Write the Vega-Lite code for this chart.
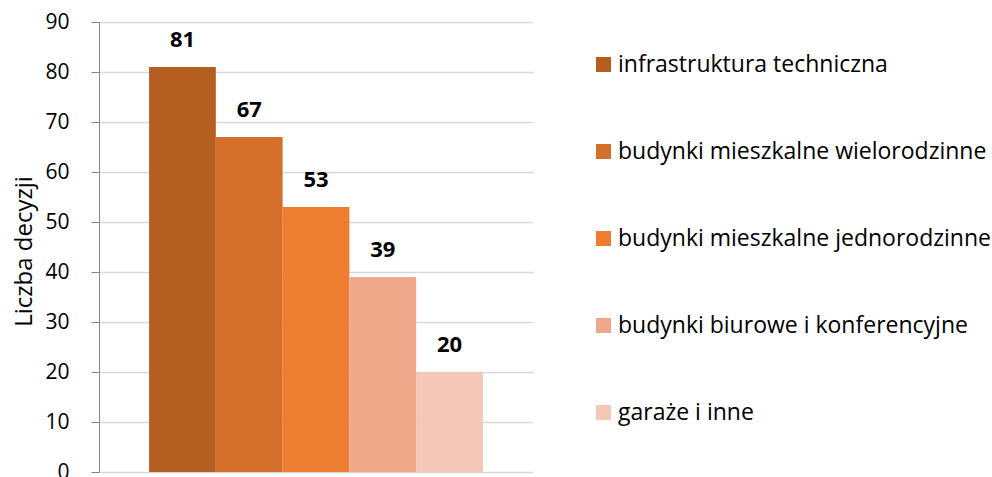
{
  "$schema": "https://vega.github.io/schema/vega-lite/v6.json",
  "width": 434,
  "height": 450,
  "autosize": {"type": "none"},
  "padding": {"left": 99, "top": 22, "right": 459, "bottom": 5},
  "background": "white",
  "config": {
    "view": {"stroke": null},
    "font": "Open Sans"
  },
  "data": {
    "values": [
      {"kategoria": "infrastruktura techniczna", "liczba": 81},
      {"kategoria": "budynki mieszkalne wielorodzinne", "liczba": 67},
      {"kategoria": "budynki mieszkalne jednorodzinne", "liczba": 53},
      {"kategoria": "budynki biurowe i konferencyjne", "liczba": 39},
      {"kategoria": "garaże i inne", "liczba": 20}
    ]
  },
  "encoding": {
    "x": {
      "field": "kategoria",
      "type": "nominal",
      "sort": null,
      "scale": {"paddingInner": 0, "paddingOuter": 0.75},
      "axis": null
    },
    "y": {
      "field": "liczba",
      "type": "quantitative",
      "scale": {"domain": [0, 90]},
      "axis": {
        "title": "Liczba decyzji",
        "values": [0, 10, 20, 30, 40, 50, 60, 70, 80, 90],
        "titleFontSize": 24,
        "titleFontWeight": "normal",
        "titleColor": "#000000",
        "titlePadding": 8,
        "titleY": 229,
        "labelFontSize": 21,
        "labelColor": "#000000",
        "labelPadding": 22,
        "tickSize": 8,
        "tickColor": "#868686",
        "domainColor": "#868686",
        "gridColor": "#D9D9D9",
        "gridWidth": 1.5
      }
    }
  },
  "layer": [
    {
      "mark": {"type": "bar"},
      "encoding": {
        "color": {
          "field": "kategoria",
          "type": "nominal",
          "sort": null,
          "scale": {
            "domain": ["infrastruktura techniczna", "budynki mieszkalne wielorodzinne", "budynki mieszkalne jednorodzinne", "budynki biurowe i konferencyjne", "garaże i inne"],
            "range": ["#B45E22", "#D36E2B", "#ED7D31", "#F0A88A", "#F4C7B9"]
          },
          "legend": {
            "title": null,
            "orient": "none",
            "legendX": 493,
            "legendY": 31,
            "symbolType": "square",
            "symbolSize": 225,
            "symbolStrokeWidth": 0,
            "labelFontSize": 23,
            "labelColor": "#000000",
            "labelOffset": 3,
            "labelLimit": 500,
            "rowPadding": 63
          }
        }
      }
    },
    {
      "mark": {"type": "text", "baseline": "bottom", "dy": -15, "fontSize": 22, "fontWeight": "bold", "color": "#000000"},
      "encoding": {
        "text": {"field": "liczba", "type": "quantitative"}
      }
    }
  ]
}
